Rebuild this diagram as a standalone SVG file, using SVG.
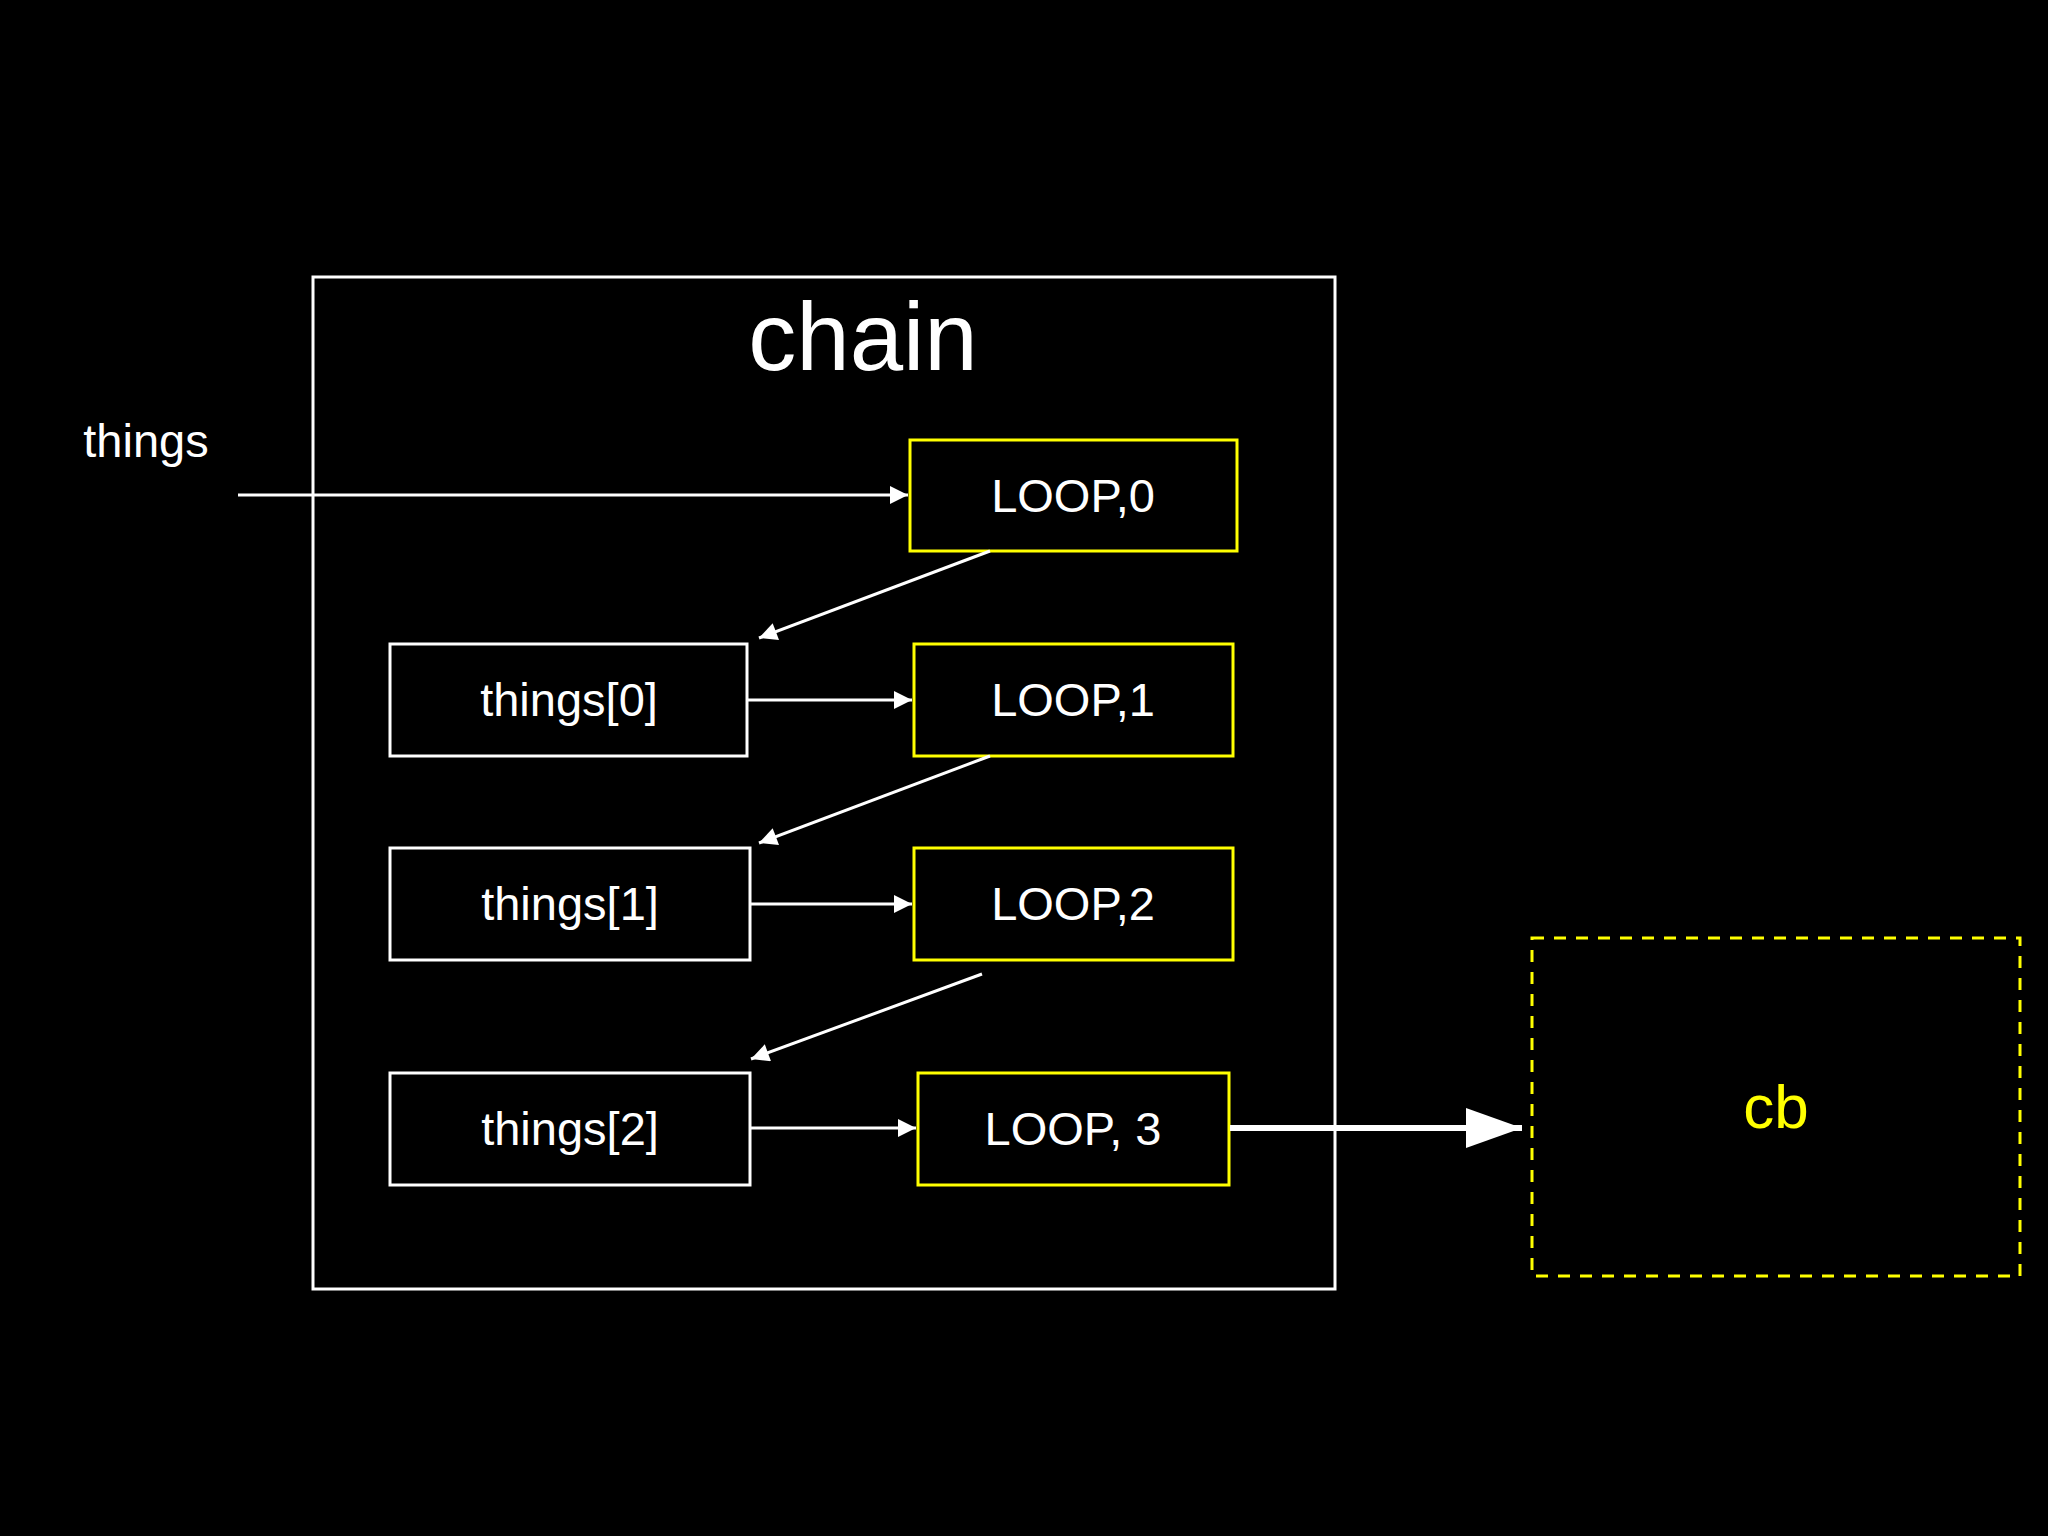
<svg xmlns="http://www.w3.org/2000/svg" width="2048" height="1536" viewBox="0 0 2048 1536">
<defs>
<style>
.w{fill:none;stroke:#fff;stroke-width:3}
.y{fill:none;stroke:#ffff00;stroke-width:3}
.t{font-family:"Liberation Sans",Arial,sans-serif;fill:#fff;text-anchor:middle;font-size:47px}
.c{stroke:#fff;stroke-width:3;fill:none;marker-end:url(#a)}
</style>
<marker id="a" viewBox="0 0 10 10" refX="10" refY="5" markerWidth="9" markerHeight="6" markerUnits="strokeWidth" orient="auto"><path d="M0,0L10,5L0,10z" fill="#fff"/></marker>
<marker id="b" viewBox="0 0 10 10" refX="10" refY="5" markerWidth="10" markerHeight="8" markerUnits="userSpaceOnUse" orient="auto"><path d="M0,0L10,5L0,10z" fill="#fff"/></marker>
</defs>
<rect width="2048" height="1536" fill="#000"/>
<g id="chain"><rect class="w" x="313" y="277" width="1022" height="1012"/><text class="t" x="863" y="370" style="font-size:96px">chain</text></g>
<g id="things"><text class="t" x="146" y="457">things</text></g>
<g id="loop0"><rect class="y" x="910" y="440" width="327" height="111"/><text class="t" x="1073" y="512">LOOP,0</text></g>
<g id="things0"><rect class="w" x="390" y="644" width="357" height="112"/><text class="t" x="569" y="716">things[0]</text></g>
<g id="loop1"><rect class="y" x="914" y="644" width="319" height="112"/><text class="t" x="1073" y="716">LOOP,1</text></g>
<g id="things1"><rect class="w" x="390" y="848" width="360" height="112"/><text class="t" x="570" y="920">things[1]</text></g>
<g id="loop2"><rect class="y" x="914" y="848" width="319" height="112"/><text class="t" x="1073" y="920">LOOP,2</text></g>
<g id="things2"><rect class="w" x="390" y="1073" width="360" height="112"/><text class="t" x="570" y="1145">things[2]</text></g>
<g id="loop3"><rect class="y" x="918" y="1073" width="311" height="112"/><text class="t" x="1073" y="1145">LOOP, 3</text></g>
<g id="cb"><rect x="1532" y="938" width="488" height="338" fill="none" stroke="#ffff00" stroke-width="3" stroke-dasharray="12,10"/><text class="t" x="1776" y="1128" style="fill:#ffff00;font-size:62px">cb</text></g>
<g id="connectors">
<path class="c" d="M238,495H908"/>
<path class="c" d="M990,551L759,638"/>
<path class="c" d="M748,700H912"/>
<path class="c" d="M990,756L759,843"/>
<path class="c" d="M751,904H912"/>
<path class="c" d="M982,974L751,1059"/>
<path class="c" d="M751,1128H916"/>
<path d="M1230,1128H1522" stroke="#fff" stroke-width="6" fill="none"/>
<path d="M1466,1108L1522,1128L1466,1148z" fill="#fff"/>
</g>
</svg>
